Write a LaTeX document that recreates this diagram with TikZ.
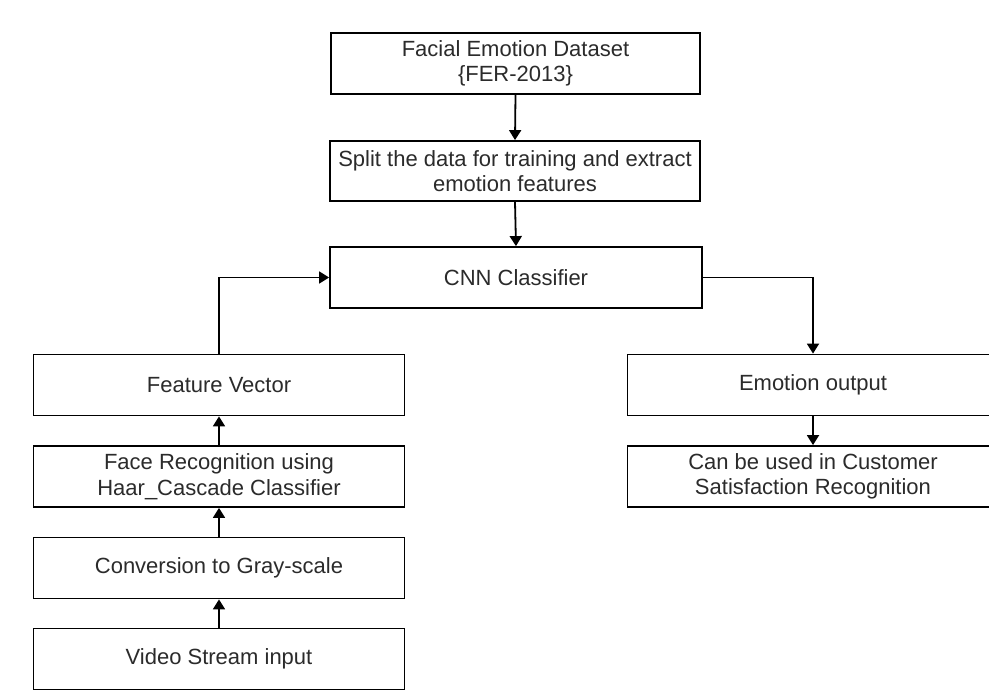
\documentclass[tikz,border=0pt]{standalone}
\usepackage{fontspec}
\setmainfont{Liberation Sans}
\usetikzlibrary{arrows.meta}
\definecolor{txt}{HTML}{2B2B2B}
\begin{document}
\begin{tikzpicture}[x=1pt,y=-1pt,
  box/.style={draw=black, line width=1.8pt, fill=white, minimum width=371pt, minimum height=61pt,
    inner sep=0pt, align=center, text=txt, font=\fontsize{22}{25.5}\selectfont},
  conn/.style={draw=black, line width=1.8pt, -{Triangle[width=12pt,length=10pt]}}]
\useasboundingbox (0,0) rectangle (989,690);
\clip (0,0) rectangle (989,690);
\fill[white] (0,0) rectangle (989,690);
\node[box, minimum width=369pt] (b1) at (515.5,63.5) {Facial Emotion Dataset\\\{FER-2013\}};
\node[box, minimum width=370pt, minimum height=60pt] (b2) at (515,171) {Split the data for training and extract\\emotion features};
\node[box, minimum width=372pt] (b3) at (516,277.5) {CNN Classifier};
\node[box] (fv) at (219,385) {Feature Vector};
\node[box] (fr) at (219,476.5) {Face Recognition using\\Haar\_Cascade Classifier};
\node[box] (cg) at (219,568) {Conversion to Gray-scale};
\node[box] (vs) at (219,659) {Video Stream input};
\node[box] (eo) at (813,385) {Emotion output};
\node[box] (cu) at (813,476.5) {Can be used in Customer\\Satisfaction Recognition};
\draw[conn] (b1.south) -- (b2.north);
\draw[conn] (b2.south) -- (b3.north);
\draw[conn] (fv.north) |- (b3.west);
\draw[conn] (b3.east) -| (eo.north);
\draw[conn] (eo.south) -- (cu.north);
\draw[conn] (vs.north) -- (cg.south);
\draw[conn] (cg.north) -- (fr.south);
\draw[conn] (fr.north) -- (fv.south);
\end{tikzpicture}
\end{document}
